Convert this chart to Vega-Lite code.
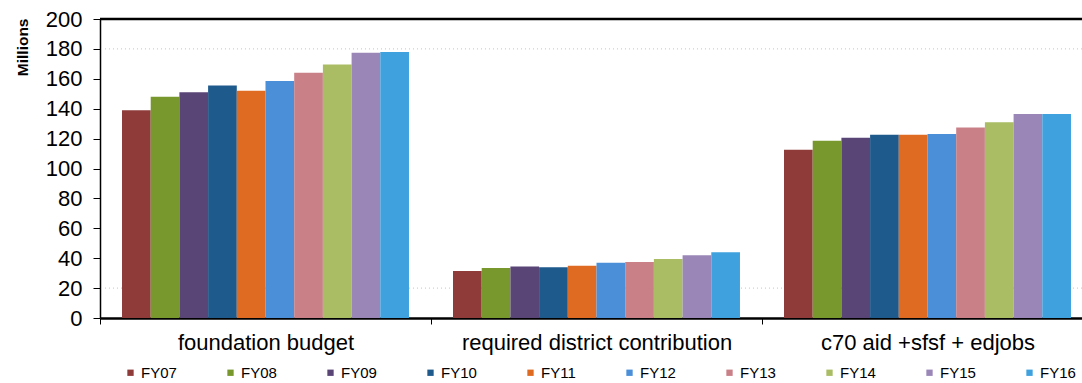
{
  "$schema": "https://vega.github.io/schema/vega-lite/v6.json",
  "width": 982,
  "height": 299,
  "autosize": {"type": "none"},
  "padding": {"left": 100, "top": 19, "right": 0, "bottom": 65},
  "background": "white",
  "config": {
    "view": {"stroke": null},
    "font": "Liberation Sans",
    "axisY": {
      "values": [0, 20, 40, 60, 80, 100, 120, 140, 160, 180, 200],
      "labelOverlap": false,
      "grid": false,
      "labelFontSize": 22,
      "labelColor": "black",
      "labelPadding": 11,
      "domainColor": "black",
      "domainWidth": 1.5,
      "tickColor": "black",
      "tickSize": 7,
      "titleFontSize": 15.5,
      "titleFontWeight": "bold",
      "titleColor": "black",
      "titleAlign": "right",
      "titleBaseline": "top",
      "titleAngle": -90,
      "titleX": -85,
      "titleY": -1
    }
  },
  "datasets": {
    "bars": [
      {"category": "foundation budget", "year": "FY07", "value": 139},
      {"category": "foundation budget", "year": "FY08", "value": 148},
      {"category": "foundation budget", "year": "FY09", "value": 151},
      {"category": "foundation budget", "year": "FY10", "value": 155.5},
      {"category": "foundation budget", "year": "FY11", "value": 152},
      {"category": "foundation budget", "year": "FY12", "value": 158.5},
      {"category": "foundation budget", "year": "FY13", "value": 164},
      {"category": "foundation budget", "year": "FY14", "value": 169.5},
      {"category": "foundation budget", "year": "FY15", "value": 177.5},
      {"category": "foundation budget", "year": "FY16", "value": 178},
      {"category": "required district contribution", "year": "FY07", "value": 31.5},
      {"category": "required district contribution", "year": "FY08", "value": 33.5},
      {"category": "required district contribution", "year": "FY09", "value": 34.5},
      {"category": "required district contribution", "year": "FY10", "value": 34},
      {"category": "required district contribution", "year": "FY11", "value": 35},
      {"category": "required district contribution", "year": "FY12", "value": 37},
      {"category": "required district contribution", "year": "FY13", "value": 37.5},
      {"category": "required district contribution", "year": "FY14", "value": 39.5},
      {"category": "required district contribution", "year": "FY15", "value": 42},
      {"category": "required district contribution", "year": "FY16", "value": 44},
      {"category": "c70 aid +sfsf + edjobs", "year": "FY07", "value": 112.5},
      {"category": "c70 aid +sfsf + edjobs", "year": "FY08", "value": 118.5},
      {"category": "c70 aid +sfsf + edjobs", "year": "FY09", "value": 120.5},
      {"category": "c70 aid +sfsf + edjobs", "year": "FY10", "value": 122.5},
      {"category": "c70 aid +sfsf + edjobs", "year": "FY11", "value": 122.5},
      {"category": "c70 aid +sfsf + edjobs", "year": "FY12", "value": 123},
      {"category": "c70 aid +sfsf + edjobs", "year": "FY13", "value": 127.5},
      {"category": "c70 aid +sfsf + edjobs", "year": "FY14", "value": 131},
      {"category": "c70 aid +sfsf + edjobs", "year": "FY15", "value": 136.5},
      {"category": "c70 aid +sfsf + edjobs", "year": "FY16", "value": 136.5}
    ],
    "grid": [{"value": 20}, {"value": 180}],
    "top": [{"value": 200}]
  },
  "layer": [
    {
      "data": {"name": "grid"},
      "mark": {"type": "rule", "color": "#c4c4c4", "strokeDash": [1, 3], "strokeWidth": 1},
      "encoding": {
        "y": {"field": "value", "type": "quantitative", "title": "Millions", "scale": {"domain": [0, 200], "nice": false}}
      }
    },
    {
      "data": {"name": "bars"},
      "mark": {"type": "bar"},
      "encoding": {
        "x": {
          "field": "category",
          "type": "nominal",
          "sort": ["foundation budget", "required district contribution", "c70 aid +sfsf + edjobs"],
          "scale": {"range": [0, 993], "paddingInner": 0, "paddingOuter": 0},
          "axis": {
            "title": null,
            "labelAngle": 0,
            "labelFontSize": 22,
            "labelColor": "black",
            "labelLimit": 400,
            "labelPadding": 8,
            "domainColor": "black",
            "domainWidth": 2.5,
            "tickColor": "black",
            "tickSize": 6,
            "tickBand": "extent"
          }
        },
        "xOffset": {
          "field": "year",
          "type": "nominal",
          "scale": {"paddingInner": 0, "paddingOuter": 0.767}
        },
        "y": {
          "field": "value",
          "type": "quantitative",
          "title": "Millions",
          "scale": {"domain": [0, 200], "nice": false}
        },
        "color": {
          "field": "year",
          "type": "nominal",
          "scale": {
            "domain": ["FY07", "FY08", "FY09", "FY10", "FY11", "FY12", "FY13", "FY14", "FY15", "FY16"],
            "range": ["#8E3B3A", "#78982E", "#5A4577", "#1E5A8C", "#DE6B21", "#4A8FD8", "#C98087", "#AABD65", "#9A87B8", "#3FA2DF"]
          },
          "legend": {
            "title": null,
            "orient": "none",
            "legendX": 23,
            "legendY": 346,
            "direction": "horizontal",
            "columns": 10,
            "symbolType": "square",
            "symbolSize": 40,
            "symbolStrokeWidth": 0,
            "labelFontSize": 15,
            "labelColor": "black",
            "labelOffset": 3,
            "columnPadding": 46
          }
        }
      }
    },
    {
      "data": {"name": "top"},
      "mark": {"type": "rule", "color": "black", "strokeWidth": 2.5},
      "encoding": {
        "y": {"field": "value", "type": "quantitative", "title": "Millions", "scale": {"domain": [0, 200], "nice": false}}
      }
    }
  ]
}
